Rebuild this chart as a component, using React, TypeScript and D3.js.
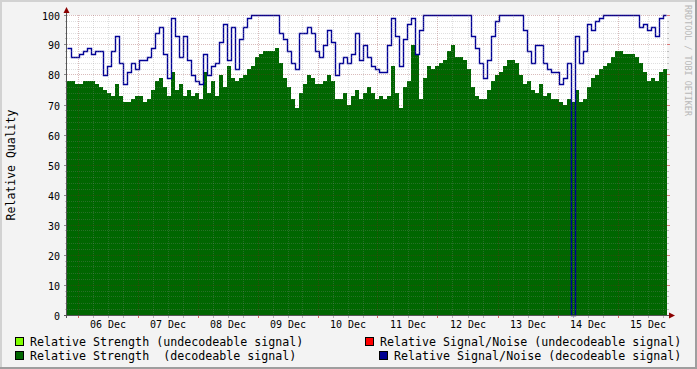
import React from 'react';
import * as d3 from 'd3';

// Relative Strength (decodeable signal), one sample per 96 minutes
const strength = [
  78, 78, 77, 77, 78, 78, 78, 77, 76, 75,
  74, 73, 77, 73, 71, 71, 72, 73, 73, 71,
  72, 75, 78, 79, 76, 73, 81, 75, 77, 73,
  75, 73, 74, 72, 81, 74, 78, 73, 80, 76,
  83, 79, 78, 79, 80, 82, 83, 86, 87, 88,
  88, 88, 89, 84, 79, 76, 72, 69, 74, 77,
  80, 79, 77, 77, 78, 80, 78, 72, 72, 74,
  70, 73, 75, 72, 74, 76, 74, 72, 73, 72,
  73, 83, 74, 69, 76, 78, 90, 87, 72, 79,
  83, 82, 83, 84, 85, 88, 90, 86, 86, 85,
  82, 76, 73, 72, 72, 75, 78, 80, 81, 83,
  85, 85, 84, 80, 77, 78, 75, 74, 77, 73,
  74, 72, 72, 71, 70, 72, 71, 75, 71, 72,
  76, 79, 80, 82, 83, 84, 86, 88, 88, 87,
  87, 87, 86, 84, 81, 78, 79, 78, 81, 82,
];

// Relative Signal/Noise (decodeable signal)
const signalNoise = [
  89, 86, 86, 87, 88, 89, 87, 88, 88, 80,
  83, 88, 93, 84, 77, 81, 84, 82, 85, 85,
  86, 89, 94, 96, 87, 79, 99, 93, 86, 93,
  85, 80, 78, 77, 87, 80, 83, 84, 91, 97,
  85, 96, 82, 92, 96, 99, 100, 100, 100, 100,
  100, 100, 100, 94, 92, 88, 84, 82, 94, 94,
  96, 94, 88, 86, 90, 95, 91, 80, 84, 86,
  84, 87, 94, 85, 90, 86, 83, 82, 81, 81,
  90, 99, 93, 83, 92, 97, 99, 87, 95, 100,
  100, 100, 100, 100, 100, 100, 100, 100, 100, 100,
  100, 93, 89, 84, 79, 85, 93, 98, 100, 100,
  100, 100, 100, 100, 95, 88, 84, 90, 90, 84,
  82, 81, 81, 77, 79, 84, 0, 93, 84, 88,
  97, 95, 98, 99, 100, 100, 100, 100, 100, 100,
  100, 100, 100, 96, 97, 95, 96, 93, 99, 100,
];

const yTickValues = [0, 10, 20, 30, 40, 50, 60, 70, 80, 90, 100];
const dayLabels = ['06 Dec', '07 Dec', '08 Dec', '09 Dec', '10 Dec', '11 Dec', '12 Dec', '13 Dec', '14 Dec', '15 Dec'];
const legendItems = [
  { label: 'Relative Strength (undecodeable signal)', color: '#80ff00' },
  { label: 'Relative Signal/Noise (undecodeable signal)', color: '#ff0000' },
  { label: 'Relative Strength  (decodeable signal)', color: '#006600' },
  { label: 'Relative Signal/Noise (decodeable signal)', color: '#000090' },
];

const W = 697;
const H = 369;
const X0 = 67;
const X1 = 667;
const Y0 = 315;
const Y1 = 15;
const FONT = '"DejaVu Sans Mono", monospace';

export default function App() {
  const start = new Date(2023, 11, 5, 19, 36);
  const stepMin = 96;
  const n = strength.length;
  const end = d3.timeMinute.offset(start, n * stepMin);
  const times = d3.range(n + 1).map((i) => d3.timeMinute.offset(start, i * stepMin));

  const x = d3.scaleTime().domain([start, end]).range([X0, X1]);
  const y = d3.scaleLinear().domain([0, 100]).range([Y0, Y1]);

  const gVals = [...strength, strength[n - 1]];
  const bVals = [...signalNoise, signalNoise[n - 1]];

  const area = d3
    .area<number>()
    .x((_, i) => x(times[i]))
    .y0(Y0)
    .y1((d) => y(d))
    .curve(d3.curveStepAfter);
  const line = d3
    .line<number>()
    .x((_, i) => Math.min(x(times[i]), X1 - 1) + 0.5)
    .y((d) => y(d) + 0.5)
    .curve(d3.curveStepAfter);

  const hours = d3.timeHour.every(6)!.range(start, end);
  const minorY = d3.range(2, 100, 2).filter((v) => v % 10 !== 0);
  const days = d3.timeDay.range(d3.timeDay.ceil(start), end);

  const minorCol = 'rgba(140,140,140,0.28)';
  const majorCol = 'rgba(130,30,30,0.30)';

  return (
    <svg width={W} height={H} style={{ position: 'absolute', left: 0, top: 0 }} xmlns="http://www.w3.org/2000/svg">
      <rect x={0} y={0} width={W} height={H} fill="#f3f3f3" />
      <rect x={0} y={0} width={W} height={2} fill="#d2d2d2" />
      <rect x={0} y={0} width={2} height={H} fill="#d2d2d2" />
      <rect x={0} y={H - 2} width={W} height={2} fill="#9e9e9e" />
      <rect x={W - 2} y={0} width={2} height={H} fill="#9e9e9e" />

      <rect x={X0} y={Y1} width={X1 - X0} height={Y0 - Y1} fill="#ffffff" />

      <path d={area(gVals) || ''} fill="#006600" />
      <path d={line(bVals) || ''} fill="none" stroke="#000096" strokeWidth={1.4} />

      {/* grid */}
      {hours.map((t, i) => {
        const isMid = t.getHours() === 0;
        const xx = Math.floor(x(t)) + 0.5;
        const col = isMid ? majorCol : minorCol;
        return (
          <g key={'v' + i}>
            <line x1={xx} x2={xx} y1={Y1} y2={Y0} stroke={col} strokeDasharray="1,1" />
            <line x1={xx} x2={xx} y1={Y0} y2={Y0 + 3} stroke={isMid ? 'rgba(200,40,40,0.7)' : 'rgba(140,140,140,0.6)'} />
          </g>
        );
      })}
      {minorY.map((v) => {
        const yy = Math.floor(y(v)) + 0.5;
        return (
          <g key={'hm' + v}>
            <line x1={X0} x2={X1} y1={yy} y2={yy} stroke={minorCol} strokeDasharray="1,1" />
            <line x1={X0 - 2} x2={X0} y1={yy} y2={yy} stroke="rgba(140,140,140,0.5)" />
            <line x1={X1} x2={X1 + 2} y1={yy} y2={yy} stroke="rgba(140,140,140,0.5)" />
          </g>
        );
      })}
      {yTickValues.map((v) => {
        const yy = Math.floor(y(v)) + 0.5;
        return (
          <g key={'hM' + v}>
            {v > 0 && <line x1={X0} x2={X1} y1={yy} y2={yy} stroke={majorCol} strokeDasharray="1,1" />}
            <line x1={X0 - 3} x2={X0} y1={yy} y2={yy} stroke="rgba(110,110,110,0.8)" />
            <line x1={X1} x2={X1 + 3} y1={yy} y2={yy} stroke="rgba(200,40,40,0.6)" />
            <text x={60} y={yy + 4} textAnchor="end" fontFamily={FONT} fontSize={10} fill="#000">
              {v}
            </text>
          </g>
        );
      })}

      {/* axes */}
      <line x1={X0 - 0.5} x2={X0 - 0.5} y1={Y0 + 3} y2={10} stroke="#555" strokeWidth={1} />
      <line x1={X0 - 3} x2={X1 + 3} y1={Y0 + 0.5} y2={Y0 + 0.5} stroke="#555" strokeWidth={1} />
      <path d={`M${X0 - 3.5},13 L${X0 - 0.5},7 L${X0 + 2.5},13 Z`} fill="#8b0000" />
      <path d={`M${X1 + 2},${Y0 - 2.5} L${X1 + 8},${Y0 + 0.5} L${X1 + 2},${Y0 + 3.5} Z`} fill="#8b0000" />

      {/* x labels at noon */}
      {days.map((d, i) => (
        <text
          key={'d' + i}
          x={x(d3.timeHour.offset(d, 12))}
          y={328}
          textAnchor="middle"
          fontFamily={FONT}
          fontSize={10}
          fill="#000"
        >
          {dayLabels[i]}
        </text>
      ))}

      {/* y title */}
      <text
        transform={`translate(15,${(Y0 + Y1) / 2}) rotate(-90)`}
        textAnchor="middle"
        fontFamily={FONT}
        fontSize={11.5}
        fill="#000"
      >
        Relative Quality
      </text>

      {/* watermark */}
      <text transform="translate(684.5,5) rotate(90)" fontFamily={FONT} fontSize={8.4} fill="#b8b8b8">
        RRDTOOL / TOBI OETIKER
      </text>

      {/* legend */}
      {legendItems.map((it, i) => {
        const row = i < 2 ? 0 : 1;
        const col = i % 2;
        const by = row === 0 ? 337 : 351;
        let sx: number;
        let tx: number;
        if (col === 0) {
          sx = 15;
          tx = 30;
        } else {
          sx = row === 0 ? 365 : 379;
          tx = sx + 15;
        }
        return (
          <g key={'l' + i}>
            <rect x={sx + 0.5} y={by + 0.5} width={8} height={8} fill={it.color} stroke="#000" strokeWidth={1} />
            <text x={tx} y={by + 8.5} fontFamily={FONT} fontSize={11.65} fill="#000" style={{ whiteSpace: 'pre' }}>
              {it.label}
            </text>
          </g>
        );
      })}
    </svg>
  );
}
